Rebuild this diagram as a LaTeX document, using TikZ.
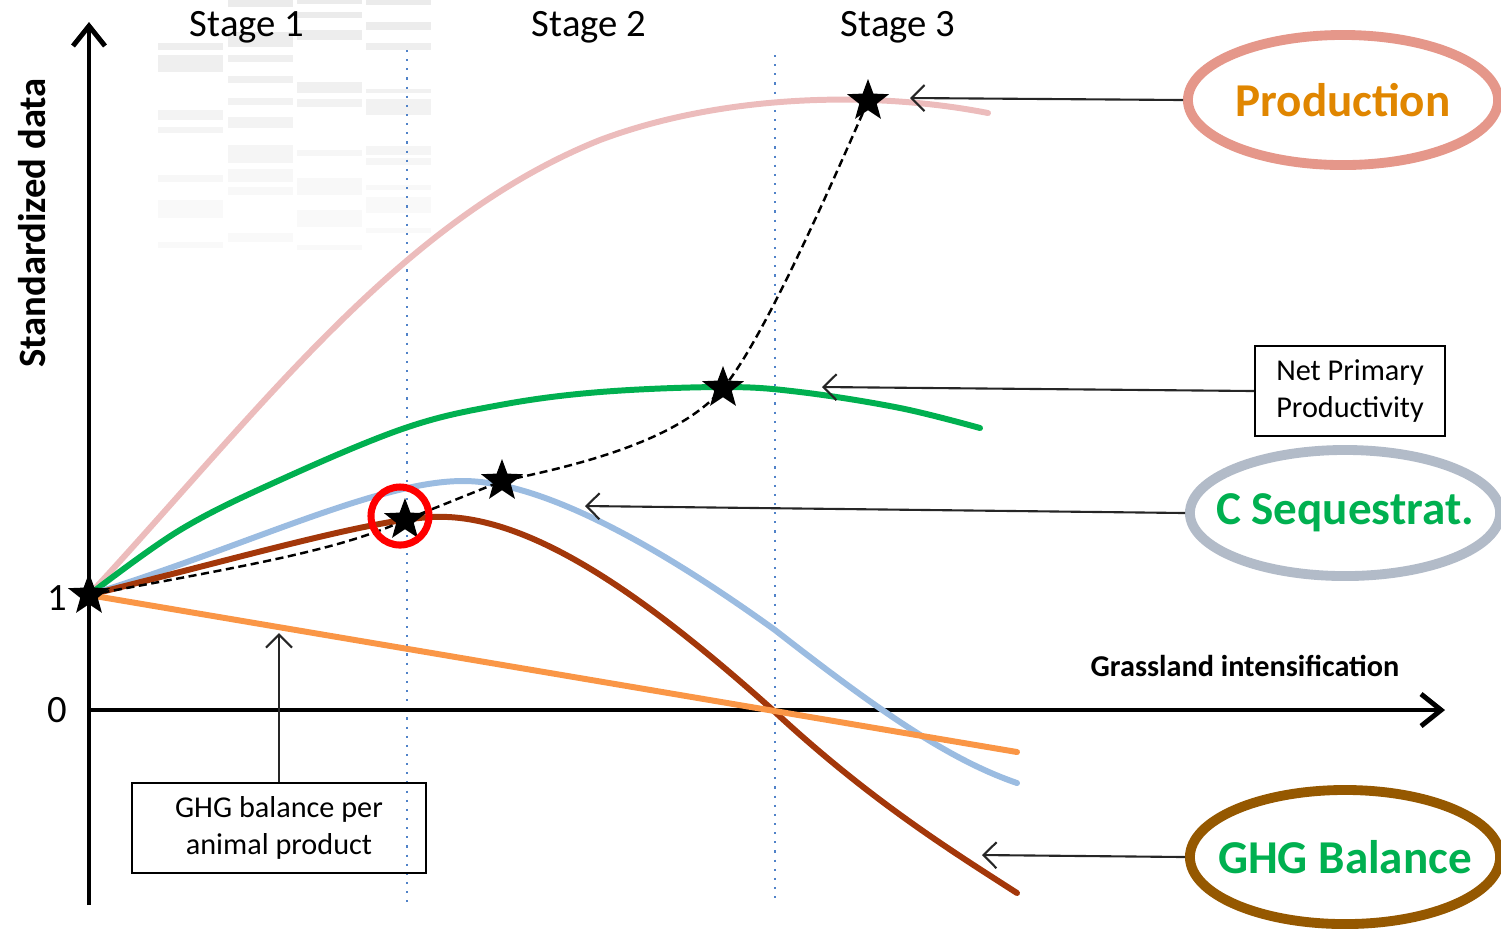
\documentclass[tikz,border=0pt]{standalone}
\usepackage{fontspec}
\setmainfont{Carlito}
\usepackage{tikz}
\usetikzlibrary{arrows.meta, positioning, shapes.geometric}

\definecolor{prodpink}{RGB}{236,188,188}
\definecolor{prodring}{RGB}{229,151,138}
\definecolor{prodtext}{RGB}{224,134,0}
\definecolor{nppgreen}{RGB}{0,176,80}
\definecolor{seqblue}{RGB}{155,188,225}
\definecolor{seqring}{RGB}{178,187,200}
\definecolor{ghgbrown}{RGB}{163,55,10}
\definecolor{ghgring}{RGB}{149,88,0}
\definecolor{perorange}{RGB}{250,150,70}
\definecolor{stageblue}{RGB}{80,130,200}

\tikzset{
  axis/.style={line width=1.4pt, -{Straight Barb[length=2mm,width=3.2mm]}},
  curve/.style={line width=1.7pt, line cap=round},
  stageline/.style={stageblue, line width=0.6pt, dotted},
  pointer/.style={line width=0.6pt, black!85, -{Straight Barb[length=1.3mm,width=2.6mm]}},
  starmark/.style={star, star points=5, star point ratio=2.4, fill=black, inner sep=0pt, minimum size=0.44cm},
  tag/.style={ellipse, line width=2.8pt, minimum width=3.1cm, minimum height=1.3cm, inner sep=0pt,
    inner xsep=-0.3cm, font=\fontsize{13.4}{16}\selectfont\bfseries},
  note/.style={draw, line width=0.6pt, align=center, inner sep=0pt, minimum height=0.9cm,
    font=\fontsize{8.6}{10.5}\selectfont},
}

\begin{document}
\begin{tikzpicture}[x=0.01cm, y=-0.01cm]
\useasboundingbox (0,0) rectangle (1501,929);

% Faint bars in the background
\foreach \x/\a/\b [evaluate=\a as \shade using {max(2.5,8-\a/35)}] in
  {158/43/50, 158/55/72, 158/110/120, 158/127/133, 158/175/182, 158/200/218, 158/242/248,
   228/0/7, 228/32/47, 228/55/62, 228/76/83, 228/98/105, 228/117/128, 228/145/163, 228/169/182, 228/187/195, 228/233/242,
   297/0/4, 297/12/18, 297/30/40, 297/82/93, 297/99/107, 297/150/156, 297/178/195, 297/210/227, 297/245/250,
   366/0/5, 366/22/30, 366/43/50, 366/89/93, 366/99/115, 366/146/155, 366/158/165, 366/185/190, 366/197/213, 366/228/233}
{
    \fill[black!\shade] (\x,\a) rectangle (\x+65,\b);
}

% Stage borders
\draw[stageline] (407,50) -- (407,905);
\draw[stageline] (775,55) -- (775,905);

% Draw axes
\draw[axis] (89,905) -- (89,22);
\draw[axis] (89,710) -- (1445,710);

% Curves
\draw[curve, prodpink] (89,595) .. controls (260,410) and (400,220) .. (600,140)
  .. controls (720,95) and (870,90) .. (988,113);
\draw[curve, nppgreen] plot[smooth, tension=0.6] coordinates
  {(89,595) (180,530) (280,480) (405,428) (500,405) (600,392) (723,387) (800,392) (900,408) (980,428)};
\draw[curve, seqblue] (89,595) .. controls (250,545) and (380,480) .. (465,481)
  .. controls (540,482) and (650,540) .. (775,630)
  .. controls (880,712) and (950,760) .. (1017,783);
\draw[curve, ghgbrown] (89,595) .. controls (250,555) and (370,520) .. (432,517)
  .. controls (530,512) and (650,600) .. (775,712)
  .. controls (870,800) and (950,850) .. (1017,893);
\draw[curve, perorange] (89,595) -- (1017,752);

% Stars
\foreach \n/\x/\y in {s0/89/595, s1/405/520, s2/502/481, s3/723/388, s4/868/101}
{
    \node[starmark] (\n) at (\x,\y) {};
}

% Path of the optimum
\draw[line width=0.7pt, dash pattern=on 2.3pt off 1.3pt]
  (s0.center) .. controls (250,565) and (340,550) .. (s1.center) -- (s2.center)
  .. controls (580,465) and (680,440) .. (s3.center)
  .. controls (760,345) and (825,200) .. (s4.center);

\node[circle, draw=red, line width=2pt, minimum size=0.58cm, inner sep=0pt] (focus) at (400,516) {};

% Axis labels
\node[font=\fontsize{11}{13}\selectfont] (one) at (57,598) {1};
\node[font=\fontsize{11}{13}\selectfont] (zero) at (57,710) {0};
\node[rotate=90, font=\fontsize{11}{13}\selectfont\bfseries] (ylabel) at (32,223) {Standardized data};
\node[font=\fontsize{8.6}{10}\selectfont\bfseries] (xlabel) at (1245,666) {Grassland intensification};
\node[font=\fontsize{11}{13}\selectfont] (stageone) at (247,27) {Stage 1};
\node[font=\fontsize{11}{13}\selectfont] (stagetwo) at (589,27) {Stage 2};
\node[font=\fontsize{11}{13}\selectfont] (stagethree) at (898,27) {Stage 3};

% Legend ellipses and boxes
\node[tag, draw=prodring, text=prodtext] (prod) at (1343,100) {Production};
\node[tag, draw=seqring, text=nppgreen, minimum height=1.26cm] (cseq) at (1345,513) {C Sequestrat.};
\node[tag, draw=ghgring, text=nppgreen, minimum height=1.34cm] (ghg) at (1345,857) {GHG Balance};
\node[note, minimum width=1.9cm] (npp) at (1350,391) {Net Primary\\Productivity};
\node[note, minimum width=2.93cm] (ghgper) at (279,828) {GHG balance per\\animal product};

% Pointers
\coordinate (prodtip) at (910,98);
\coordinate (npptip) at (822,387);
\coordinate (cseqtip) at (585,506);
\coordinate (ghgtip) at (982,855);
\coordinate (ghgpertip) at (279,633);
\draw[pointer] (prod.west) -- (prodtip);
\draw[pointer] (npp.west) -- (npptip);
\draw[pointer] (cseq.west) -- (cseqtip);
\draw[pointer] (ghg.west) -- (ghgtip);
\draw[pointer] (ghgper.north) -- (ghgpertip);

\end{tikzpicture}
\end{document}
